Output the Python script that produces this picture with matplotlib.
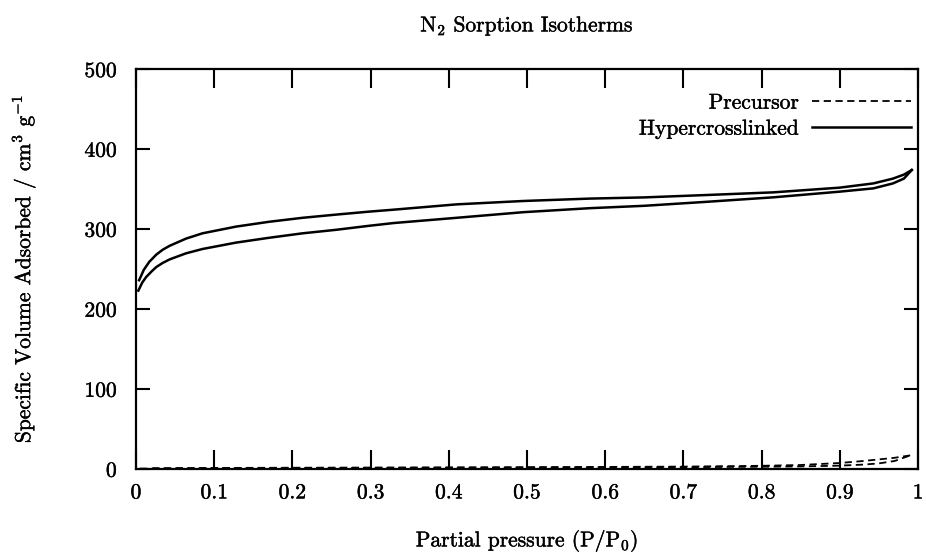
import matplotlib
matplotlib.use("Agg")
import matplotlib.pyplot as plt
import matplotlib.patheffects as pe

plt.rcParams['font.family'] = ['cmr10', 'DejaVu Serif']
plt.rcParams['mathtext.fontset'] = 'cm'
plt.rcParams['axes.formatter.use_mathtext'] = True

# Hypercrosslinked adsorption (lower) branch
hc_ads_x = [0.003, 0.008, 0.013, 0.02, 0.026, 0.034, 0.043, 0.064, 0.085, 0.128, 0.17, 0.213, 0.256, 0.298, 0.33, 0.41, 0.495, 0.58, 0.65, 0.73, 0.815, 0.9, 0.943, 0.968, 0.982, 0.992]
hc_ads_y = [223, 233, 240, 247, 252.5, 257.5, 262, 269.6, 275, 283, 289, 294.6, 299, 304, 307.5, 314, 321, 326, 329, 334, 339.6, 346.7, 350.8, 357, 363, 373.7]
# Hypercrosslinked desorption (upper) branch
hc_des_x = [0.992, 0.982, 0.968, 0.943, 0.9, 0.815, 0.73, 0.65, 0.58, 0.495, 0.41, 0.33, 0.298, 0.256, 0.213, 0.17, 0.128, 0.085, 0.064, 0.043, 0.034, 0.026, 0.017, 0.01, 0.004]
hc_des_y = [373.7, 368, 363, 357, 351.7, 345.8, 342.5, 339.5, 338, 335, 330.8, 324.2, 321.7, 318, 314, 309, 303, 294.6, 288, 279, 274, 268, 259, 249, 236]
# Precursor adsorption / desorption branches
pr_ads_x = [0.005, 0.1, 0.2, 0.3, 0.4, 0.5, 0.6, 0.7, 0.8, 0.85, 0.9, 0.93, 0.95, 0.97, 0.99]
pr_ads_y = [0.5, 1, 1.2, 1.4, 1.6, 1.8, 2, 2.3, 2.8, 3.2, 4.2, 5.5, 7, 10, 17]
pr_des_x = [0.99, 0.97, 0.95, 0.93, 0.9, 0.85, 0.8, 0.7, 0.6, 0.5, 0.4, 0.3, 0.2, 0.1, 0.02]
pr_des_y = [17, 14, 12, 10, 7.5, 5, 4, 3, 2.6, 2.3, 2, 1.8, 1.6, 1.3, 1]

fig = plt.figure(figsize=(9.26, 5.53), dpi=100)
ax = fig.add_axes([136/926, 1-469/553, (918-136)/926, (469-69)/553])

ax.plot(pr_ads_x, pr_ads_y, color='black', lw=1.3, ls=(0, (4, 2.5)), label='Precursor')
ax.plot(pr_des_x, pr_des_y, color='black', lw=1.3, ls=(0, (4, 2.5)))
ax.plot(hc_ads_x, hc_ads_y, color='black', lw=1.8, label='Hypercrosslinked')
ax.plot(hc_des_x, hc_des_y, color='black', lw=1.8)

ax.set_xlim(0, 1)
ax.set_ylim(0, 500)
ax.set_xticks([0, 0.1, 0.2, 0.3, 0.4, 0.5, 0.6, 0.7, 0.8, 0.9, 1])
ax.set_xticklabels(['0', '0.1', '0.2', '0.3', '0.4', '0.5', '0.6', '0.7', '0.8', '0.9', '1'])
ax.set_yticks([0, 100, 200, 300, 400, 500])
ax.tick_params(axis='x', direction='in', top=True, length=14, width=1.5, labelsize=15.5, pad=10)
ax.tick_params(axis='y', direction='in', right=True, length=10, width=1.5, labelsize=15.5, pad=13)
for s in ax.spines.values():
    s.set_linewidth(1.6)

ax.set_title('N$_2$ Sorption Isotherms', fontsize=15.5, pad=27)
ax.set_xlabel('Partial pressure (P/P$_0$)', fontsize=15.5, labelpad=18)
ax.set_ylabel('Specific Volume Adsorbed / cm$^3$ g$^{-1}$', fontsize=15.5, labelpad=33)

leg = ax.legend(loc='upper right', frameon=False, markerfirst=False, fontsize=15.5,
                handlelength=4.6, bbox_to_anchor=(1.008, 0.972), borderaxespad=0.2,
                labelspacing=0.3, handletextpad=0.6)

stroke = [pe.withStroke(linewidth=0.3, foreground='black')]
texts = [ax.title, ax.xaxis.label, ax.yaxis.label] + ax.get_xticklabels() + ax.get_yticklabels() + leg.get_texts()
for t in texts:
    t.set_path_effects(stroke)

fig.savefig('out.png', dpi=100)
